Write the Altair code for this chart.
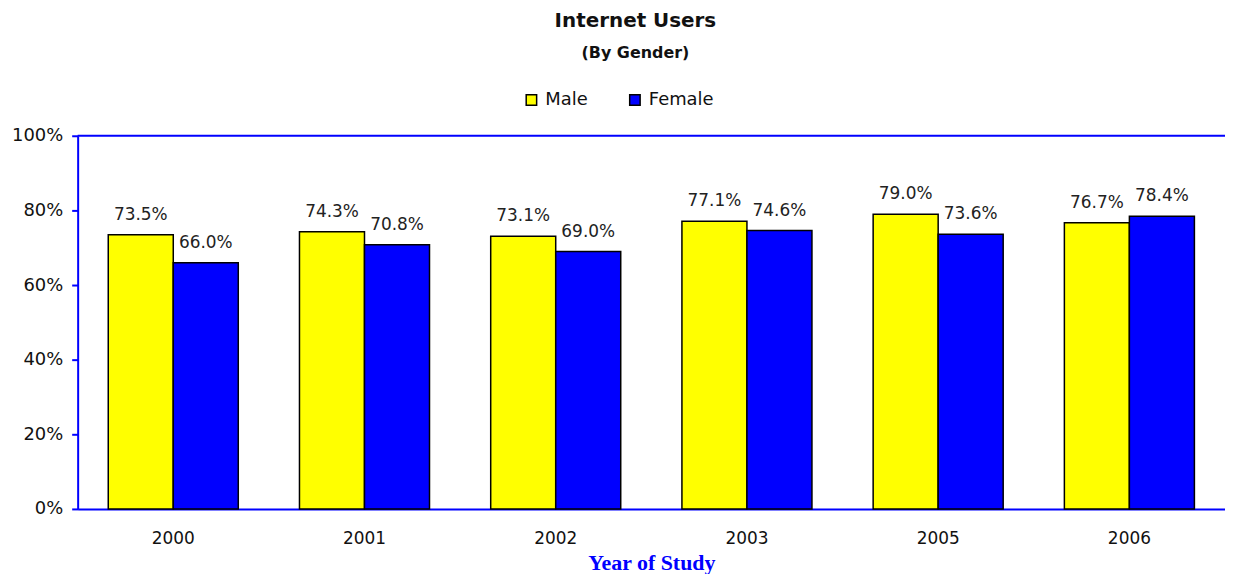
import altair as alt
import pandas as pd

years = ["2000", "2001", "2002", "2003", "2005", "2006"]
male = [73.5, 74.3, 73.1, 77.1, 79.0, 76.7]
female = [66.0, 70.8, 69.0, 74.6, 73.6, 78.4]
genders = ["Male", "Female"]
colors = ["#FFFF00", "#0000FF"]
y_ticks = [0, 20, 40, 60, 80, 100]
top_line = [100]

rows = []
for i, yr in enumerate(years):
    rows.append({"Year": yr, "Gender": "Male", "Value": male[i]})
    rows.append({"Year": yr, "Gender": "Female", "Value": female[i]})
df = pd.DataFrame(rows)
df["Label"] = df["Value"].map(lambda v: f"{v:.1f}%")

BLUE = "#0000FF"

x_enc = alt.X(
    "Year:N",
    sort=years,
    scale=alt.Scale(paddingInner=0.32, paddingOuter=0.16),
    axis=alt.Axis(
        title="Year of Study",
        labelAngle=0,
        labelFont="DejaVu Sans",
        labelFontSize=17,
        labelColor="#111111",
        labelPadding=22,
        ticks=False,
        domainColor=BLUE,
        domainWidth=2,
        titleFont="Liberation Serif",
        titleFontSize=22,
        titleFontWeight="bold",
        titleColor=BLUE,
        titlePadding=6,
    ),
)
xo_enc = alt.XOffset("Gender:N", sort=genders, scale=alt.Scale(paddingInner=0, paddingOuter=0))
y_enc = alt.Y(
    "Value:Q",
    scale=alt.Scale(domain=[0, 100]),
    axis=alt.Axis(
        title=None,
        values=y_ticks,
        labelExpr="datum.value + '%'",
        labelFont="DejaVu Sans",
        labelFontSize=18,
        labelColor="#111111",
        labelPadding=9,
        tickColor=BLUE,
        tickWidth=2,
        tickSize=6,
        domainColor=BLUE,
        domainWidth=2,
        grid=False,
    ),
)

bars = alt.Chart(df).mark_bar(stroke="black", strokeWidth=1.5).encode(
    x=x_enc,
    xOffset=xo_enc,
    y=y_enc,
    color=alt.Color(
        "Gender:N",
        sort=genders,
        scale=alt.Scale(domain=genders, range=colors),
        legend=alt.Legend(
            title=None,
            orient="none",
            direction="horizontal",
            legendX=447,
            legendY=-45,
            symbolType="square",
            symbolSize=110,
            symbolStrokeColor="black",
            symbolStrokeWidth=1.5,
            labelFont="DejaVu Sans",
            labelFontSize=18,
            labelColor="#111111",
            columnPadding=38,
            labelOffset=5,
        ),
    ),
)

labels = alt.Chart(df).mark_text(
    baseline="bottom", dy=-11, font="DejaVu Sans", fontSize=17, color="#222222"
).encode(x=x_enc, xOffset=xo_enc, y=y_enc, text="Label:N")

rule = alt.Chart(pd.DataFrame({"v": top_line})).mark_rule(color=BLUE, strokeWidth=2).encode(
    y=alt.Y("v:Q", scale=alt.Scale(domain=[0, 100]))
)

chart = (
    alt.layer(rule, bars, labels)
    .properties(
        width=1153,
        height=375,
        title=alt.TitleParams(
            text="Internet Users",
            subtitle="(By Gender)",
            font="DejaVu Sans",
            fontSize=20,
            fontWeight="bold",
            color="#111111",
            subtitleFont="DejaVu Sans",
            subtitleFontSize=16,
            subtitleFontWeight="bold",
            subtitleColor="#111111",
            subtitlePadding=14,
            anchor="middle",
            dx=-16,
            offset=30,
        ),
        autosize=alt.AutoSizeParams(type="none"),
        padding={"left": 70, "top": 127, "right": 0, "bottom": 64},
    )
    .configure_view(stroke=None)
)

chart.save("out.html", embed_options={"renderer": "svg", "actions": False})
